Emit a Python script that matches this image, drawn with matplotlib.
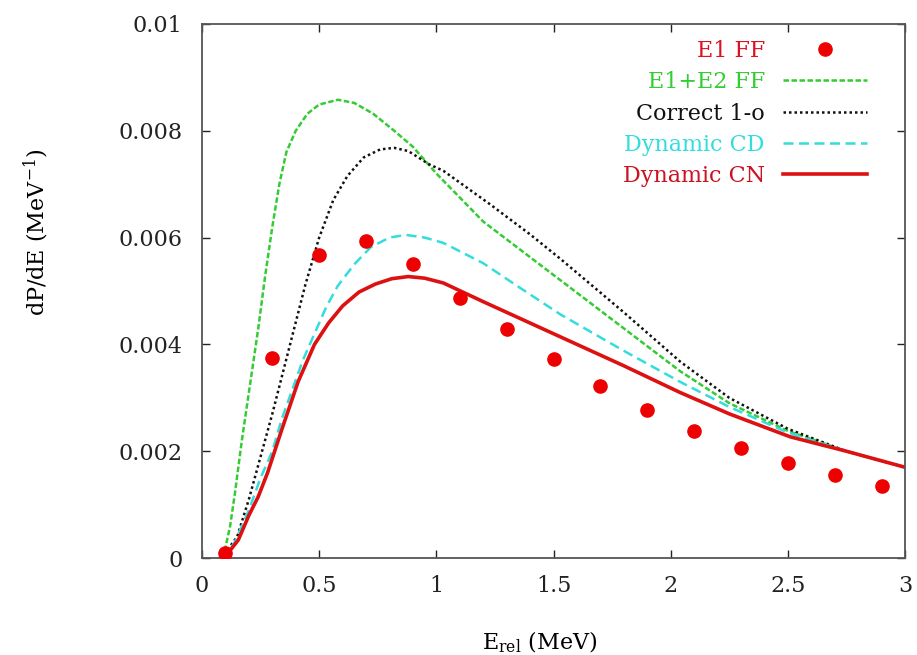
import matplotlib
matplotlib.use('Agg')
import matplotlib.pyplot as plt

plt.rcParams['font.family'] = ['DejaVu Serif']
plt.rcParams['mathtext.fontset'] = 'dejavuserif'

# E1 FF points
e1_x = [0.1, 0.3, 0.5, 0.7, 0.9, 1.1, 1.3, 1.5, 1.7, 1.9, 2.1, 2.3, 2.5, 2.7, 2.9]
e1_y = [0.0001, 0.00374, 0.00567, 0.00594, 0.0055, 0.00487, 0.00428, 0.00372,
        0.00323, 0.00277, 0.00238, 0.00206, 0.00178, 0.00156, 0.00134]

# E1+E2 FF
ff_x = [0.08, 0.10, 0.12, 0.14, 0.17, 0.20, 0.24, 0.27, 0.30, 0.33, 0.36, 0.40,
        0.45, 0.50, 0.58, 0.65, 0.73, 0.82, 0.90, 1.0, 1.1, 1.2, 1.35, 1.53, 1.8,
        2.04, 2.25, 2.5, 2.75, 3.0]
ff_y = [0.0, 0.0002, 0.0006, 0.0012, 0.0022, 0.0031, 0.0043, 0.0053, 0.0062, 0.0070,
        0.0076, 0.0080, 0.00832, 0.00849, 0.00858, 0.00852, 0.00832, 0.0080, 0.0077,
        0.0072, 0.00675, 0.0063, 0.0058, 0.0052, 0.0043, 0.0035, 0.0029, 0.00238,
        0.0020, 0.0017]

# Correct 1-o
c1_x = [0.08, 0.10, 0.15, 0.20, 0.25, 0.30, 0.37, 0.44, 0.50, 0.56, 0.62, 0.69,
        0.76, 0.82, 0.88, 0.97, 1.03, 1.1, 1.23, 1.4, 1.53, 1.8, 2.04, 2.25, 2.5,
        2.75, 3.0]
c1_y = [0.0, 0.0001, 0.0004, 0.0011, 0.0019, 0.0027, 0.0039, 0.0051, 0.0060, 0.0067,
        0.00715, 0.0075, 0.00765, 0.00768, 0.00762, 0.00737, 0.00725, 0.00703,
        0.00662, 0.00606, 0.0056, 0.0046, 0.00368, 0.0030, 0.00242, 0.0020, 0.0017]

# Dynamic CD
cd_x = [0.08, 0.10, 0.14, 0.20, 0.25, 0.30, 0.34, 0.43, 0.53, 0.58, 0.65, 0.72,
        0.80, 0.87, 0.95, 1.03, 1.2, 1.35, 1.53, 1.8, 2.04, 2.25, 2.5, 2.75, 3.0]
cd_y = [0.0, 0.00005, 0.0003, 0.0009, 0.0015, 0.0020, 0.0026, 0.0037, 0.0047, 0.0051,
        0.0055, 0.00582, 0.0060, 0.00605, 0.0060, 0.0059, 0.00552, 0.00508, 0.00456,
        0.00388, 0.0033, 0.00283, 0.00235, 0.0020, 0.0017]

# Dynamic CN
cn_x = [0.08, 0.10, 0.155, 0.20, 0.24, 0.28, 0.34, 0.41, 0.48, 0.54, 0.60, 0.67,
        0.74, 0.81, 0.88, 0.95, 1.03, 1.2, 1.35, 1.53, 1.8, 2.04, 2.25, 2.51, 2.75,
        3.0]
cn_y = [0.0, 0.00003, 0.00034, 0.0008, 0.00115, 0.0016, 0.0024, 0.0033, 0.0040,
        0.0044, 0.00472, 0.00498, 0.00513, 0.00523, 0.00527, 0.00524, 0.00515,
        0.0048, 0.0045, 0.00414, 0.0036, 0.0031, 0.0027, 0.00227, 0.0020, 0.0017]

xticks = [0, 0.5, 1, 1.5, 2, 2.5, 3]
xticklabels = ['0', '0.5', '1', '1.5', '2', '2.5', '3']
yticks = [0, 0.002, 0.004, 0.006, 0.008, 0.01]
yticklabels = ['0', '0.002', '0.004', '0.006', '0.008', '0.01']

fig = plt.figure(figsize=(9.17, 6.55), dpi=100)
ax = fig.add_axes([0.2203, 0.148, 0.7666, 0.8155])

ax.plot(e1_x, e1_y, linestyle='none', marker='o', markersize=9.5,
        color='#ee0000', label='E1 FF', zorder=5)
ax.plot(ff_x, ff_y, color='#33cc33', lw=1.8, dashes=(2.2, 1.0), label='E1+E2 FF')
ax.plot(c1_x, c1_y, color='#111111', lw=1.8, dashes=(1.0, 1.2), label='Correct 1-o')
ax.plot(cd_x, cd_y, color='#33dddd', lw=1.8, dashes=(4.0, 2.2), label='Dynamic CD')
ax.plot(cn_x, cn_y, color='#dd1111', lw=2.6, label='Dynamic CN')

ax.set_xlim(0, 3)
ax.set_ylim(0, 0.01)
ax.set_xticks(xticks)
ax.set_xticklabels(xticklabels)
ax.set_yticks(yticks)
ax.set_yticklabels(yticklabels)
ax.tick_params(direction='in', length=6, width=1, top=True, right=True,
               labelsize=16, colors='#222222')
ax.tick_params(axis='x', pad=12)
ax.tick_params(axis='y', pad=14)
for sp in ax.spines.values():
    sp.set_color('#555555')
    sp.set_linewidth(1.3)

ax.set_ylabel(r'dP/dE (MeV$^{\mathregular{-1}}$)', fontsize=16)
ax.yaxis.set_label_coords(-0.215, 0.61)
ax.set_xlabel(r'E$_{\mathregular{rel}}$ (MeV)', fontsize=16)
ax.xaxis.set_label_coords(0.48, -0.135)

leg = ax.legend(loc='upper right', bbox_to_anchor=(0.965, 0.995), markerfirst=False,
                frameon=False, fontsize=16, handlelength=3.8, handletextpad=0.8,
                labelspacing=0.42, borderaxespad=0.2)
text_colors = ['#dd1122', '#33cc33', '#111111', '#33dddd', '#cc1122']
for t, c in zip(leg.get_texts(), text_colors):
    t.set_color(c)

fig.savefig('out.png', dpi=100)
